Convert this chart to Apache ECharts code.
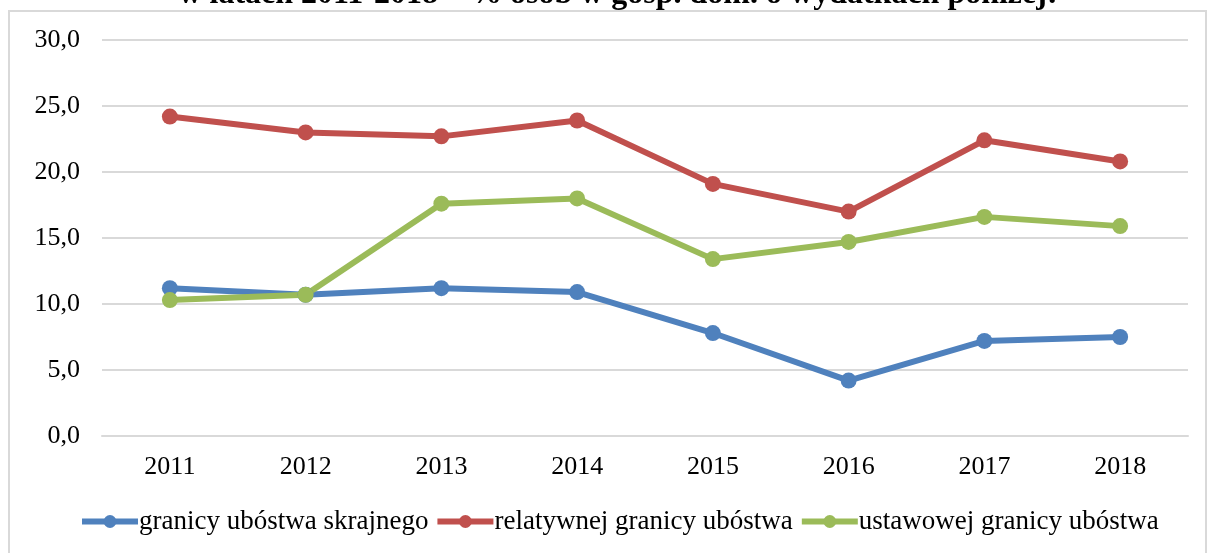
<!DOCTYPE html>
<html>
<head>
<meta charset="utf-8">
<script src="https://cdn.jsdelivr.net/npm/echarts@6/dist/echarts.min.js"></script>
<style>
  html, body { margin: 0; padding: 0; background: #fff; }
  #chart { width: 1207px; height: 553px; }
</style>
</head>
<body>
<div id="chart"></div>
<script>
const years = ['2011', '2012', '2013', '2014', '2015', '2016', '2017', '2018']
const skrajne = [11.2, 10.7, 11.2, 10.9, 7.8, 4.2, 7.2, 7.5]
const relatywne = [24.2, 23.0, 22.7, 23.9, 19.1, 17.0, 22.4, 20.8]
const ustawowe = [10.3, 10.7, 17.6, 18.0, 13.4, 14.7, 16.6, 15.9]
const seriesNames = ['granicy ubóstwa skrajnego', 'relatywnej granicy ubóstwa', 'ustawowej granicy ubóstwa']
const colors = ['#4F81BD', '#C0504D', '#9BBB59']

const font = 'Liberation Serif, Times New Roman, serif'

function line(name, data, color) {
  return {
    name,
    type: 'line',
    data,
    symbol: 'circle',
    symbolSize: 16,
    lineStyle: { width: 6, color },
    itemStyle: { color },
    emphasis: { disabled: true },
    animation: false,
  }
}

const chart = echarts.init(document.getElementById('chart'))
chart.setOption({
  backgroundColor: '#fff',
  textStyle: { fontFamily: font },
  graphic: [
    {
      type: 'rect',
      shape: { x: 9, y: 11, width: 1197, height: 560 },
      style: { fill: 'none', stroke: '#d9d9d9', lineWidth: 2 },
      z: -1,
    },
  ],
  title: {
    text: 'w latach 2011-2018 – % osób w gosp. dom. o wydatkach poniżej:',
    left: 613,
    textAlign: 'center',
    top: -26,
    textStyle: { fontFamily: font, fontSize: 32, fontWeight: 'bold', color: '#000' },
  },
  grid: { left: 102, right: 19, top: 40, bottom: 117 },
  legend: {
    bottom: 13,
    left: 74,
    itemWidth: 56,
    itemHeight: 16,
    itemGap: 6,
    lineStyle: { width: 6 },
    textStyle: { fontFamily: font, fontSize: 27, color: '#000', padding: [0, 0, 0, -4] },
    data: seriesNames,
  },
  xAxis: {
    type: 'category',
    data: years,
    axisLine: { lineStyle: { color: '#d9d9d9', width: 2 } },
    axisTick: { show: false },
    axisLabel: { color: '#000', fontSize: 26, fontFamily: font, margin: 18 },
  },
  yAxis: {
    type: 'value',
    min: 0,
    max: 30,
    interval: 5,
    axisLine: { show: false },
    axisTick: { show: false },
    splitLine: { lineStyle: { color: '#d9d9d9', width: 2 } },
    axisLabel: {
      color: '#000',
      fontSize: 26,
      fontFamily: font,
      margin: 22,
      formatter: v => v.toFixed(1).replace('.', ','),
    },
  },
  series: [
    line(seriesNames[0], skrajne, colors[0]),
    line(seriesNames[1], relatywne, colors[1]),
    line(seriesNames[2], ustawowe, colors[2]),
  ],
})
</script>
</body>
</html>
